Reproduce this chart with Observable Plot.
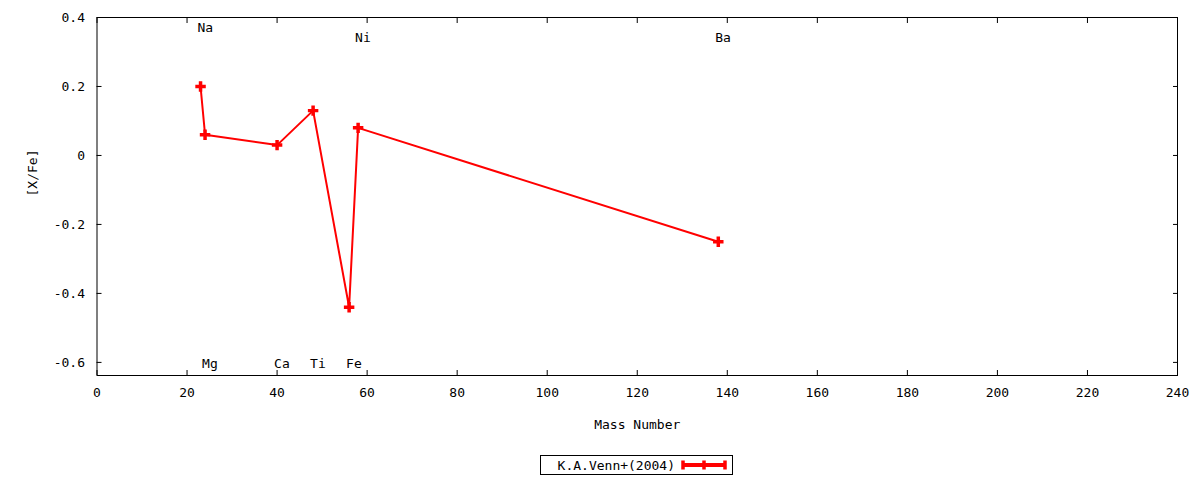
<!DOCTYPE html>
<html>
<head>
<meta charset="utf-8">
<script src="https://cdn.jsdelivr.net/npm/d3@7"></script>
<script src="https://cdn.jsdelivr.net/npm/@observablehq/plot@0.6"></script>
<style>
  body { margin: 0; background: #fff; font-family: "DejaVu Sans Mono", monospace; }
  #wrap { position: relative; width: 1200px; height: 480px; }
  #legend { position: absolute; left: 540px; top: 455px; }
</style>
</head>
<body>
<div id="wrap"></div>
<script>
const elements = ["Na", "Mg", "Ca", "Ti", "Fe", "Ni", "Ba"];
const massNumber = [23, 24, 40, 48, 56, 58, 138];
const xFe = [0.20, 0.06, 0.03, 0.13, -0.44, 0.08, -0.25];
const labelY = [0.37, -0.605, -0.605, -0.605, -0.605, 0.34, 0.34];
const xTicks = [0, 20, 40, 60, 80, 100, 120, 140, 160, 180, 200, 220, 240];
const yTicks = [-0.6, -0.4, -0.2, 0, 0.2, 0.4];
const seriesName = "K.A.Venn+(2004)";

const data = elements.map((e, i) => ({el: e, mass: massNumber[i], v: xFe[i], ly: labelY[i]}));
const red = "#ff0000";
const fmtY = d => d === 0 ? "0" : String(+d.toFixed(1));

const chart = Plot.plot({
  width: 1200,
  height: 440,
  marginLeft: 96.5,
  marginRight: 23,
  marginTop: 17,
  marginBottom: 65,
  style: {fontFamily: "DejaVu Sans Mono", fontSize: "13px", color: "#000", background: "#fff"},
  x: {domain: [0, 240]},
  y: {domain: [-0.638, 0.4]},
  marks: [
    Plot.frame({stroke: "#000", strokeWidth: 1}),
    Plot.axisX(xTicks, {anchor: "bottom", tickSize: -5, tickPadding: 17, label: null}),
    Plot.axisX(xTicks, {anchor: "top", tickSize: -5, tickFormat: () => "", label: null}),
    Plot.axisY(yTicks, {anchor: "left", tickSize: -5, tickPadding: 17, tickFormat: fmtY, label: null}),
    Plot.axisY(yTicks, {anchor: "right", tickSize: -5, tickFormat: () => "", label: null}),
    Plot.text(["Mass Number"], {frameAnchor: "bottom", dy: 53, text: d => d, fill: "#000"}),
    Plot.text(["[X/Fe]"], {frameAnchor: "left", dx: -64, rotate: -90, text: d => d, fill: "#000"}),
    Plot.line(data, {x: "mass", y: "v", stroke: red, strokeWidth: 2}),
    Plot.dot(data, {x: "mass", y: "v", symbol: "cross", fill: red, r: 4.4}),
    Plot.text(data, {x: "mass", y: "ly", text: "el", textAnchor: "start", dx: -3, fill: "#000"})
  ]
});
document.getElementById("wrap").appendChild(chart);

// legend below the chart
const leg = d3.select("#wrap").append("div").attr("id", "legend")
  .append("svg").attr("width", 193).attr("height", 20);
leg.append("rect").attr("x", 0.5).attr("y", 0.5).attr("width", 192).attr("height", 19)
  .attr("fill", "#fff").attr("stroke", "#000");
leg.append("text").attr("x", 135).attr("y", 14.5).attr("text-anchor", "end")
  .style("font-family", "DejaVu Sans Mono").style("font-size", "13px").text(seriesName);
leg.append("line").attr("x1", 143).attr("x2", 185).attr("y1", 10).attr("y2", 10)
  .attr("stroke", red).attr("stroke-width", 4);
[143, 164, 185].forEach(x => {
  leg.append("line").attr("x1", x).attr("x2", x).attr("y1", 5.5).attr("y2", 14.5)
    .attr("stroke", red).attr("stroke-width", 3.5);
});
</script>
</body>
</html>
